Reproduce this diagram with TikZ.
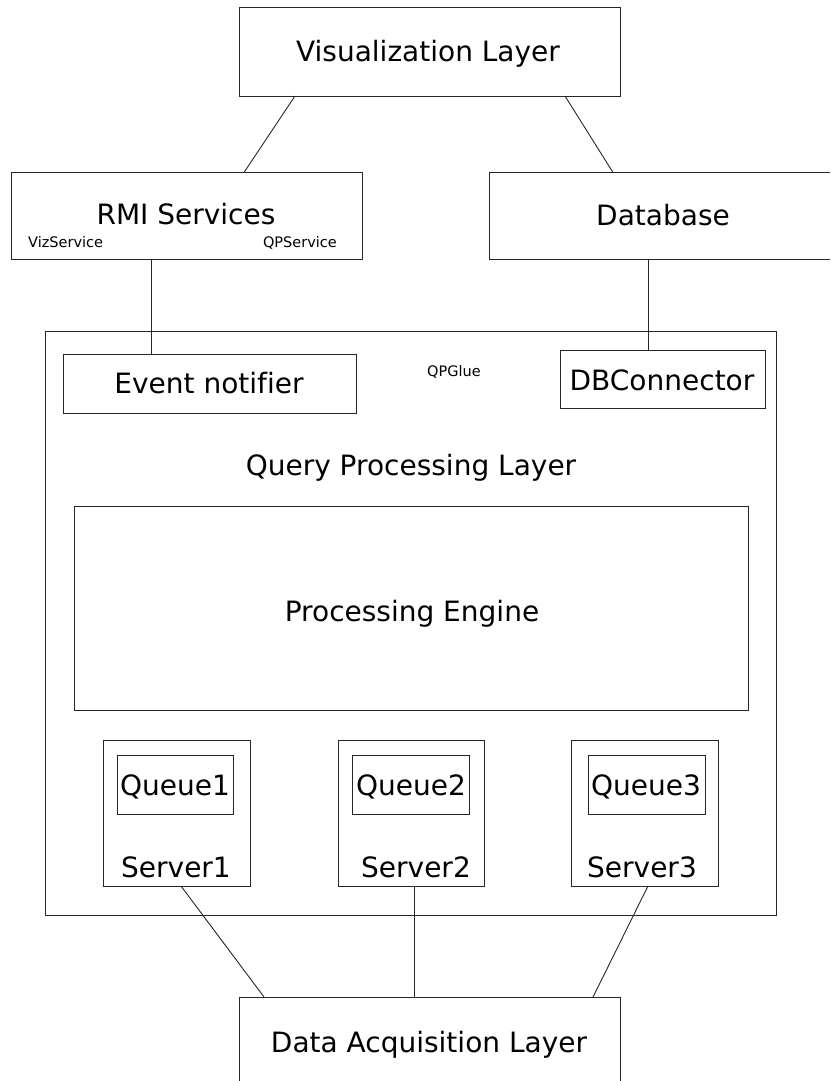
\documentclass[tikz,border=0pt]{standalone}
\usepackage{fontspec}
\setmainfont[Ligatures=NoCommon]{DejaVu Sans}
\usetikzlibrary{positioning}
\begin{document}
\begin{tikzpicture}[x=1pt,y=-1pt,
  box/.style={draw=black!85, line width=1pt, inner sep=0pt, outer sep=0pt},
  big/.style={font=\fontsize{28}{34}\selectfont, inner sep=0pt, anchor=base, text=black},
  small/.style={font=\fontsize{14.5}{17}\selectfont, inner sep=0pt, anchor=base, text=black},
  wire/.style={draw=black!85, line width=0.9pt}]
\useasboundingbox (0,0) rectangle (830,1081);
\clip (0,0) rectangle (830,1081);

% layer boxes (top row)
\node[box, minimum width=381pt, minimum height=88pt] (viz) at (429.5,52) {};
\node[box, minimum width=351pt, minimum height=87pt] (rmi) at (186.5,216) {};
\node[box, minimum width=371pt, minimum height=87pt] (db)  at (674.5,216) {};

\node[big] (vizt) at (428,62) {Visualization Layer};
\node[big] (rmit) at (186,224) {RMI Services};
\node[small, anchor=base west] (vizs) at (28,247) {VizService};
\node[small, anchor=base east] (qps)  at (337,247) {QPService};
\node[big] (dbt) at (663,225) {Database};

% query processing layer
\node[box, minimum width=731pt, minimum height=584pt] (qp) at (410.5,623) {};
\node[box, minimum width=293pt, minimum height=59pt] (evt) at (209.5,384) {};
\node[big] (evtt) at (209,393) {Event notifier};
\node[small] (glue) at (454,376) {QPGlue};
\node[box, minimum width=205pt, minimum height=58pt] (dbc) at (662.5,379) {};
\node[big] (dbct) at (662,390) {DBConnector};
\node[big] (qpt) at (411,475) {Query Processing Layer};
\node[box, minimum width=674pt, minimum height=204pt] (eng) at (411,608) {};
\node[big] (engt) at (412,621) {Processing Engine};

% servers with their queues
\node[box, minimum width=147pt, minimum height=146pt] (s1) at (176.5,813) {};
\node[box, minimum width=146pt, minimum height=146pt] (s2) at (411,813) {};
\node[box, minimum width=147pt, minimum height=146pt] (s3) at (644.5,813) {};
\node[box, minimum width=116pt, minimum height=59pt] (q1) at (175.5,785) {};
\node[box, minimum width=117pt, minimum height=59pt] (q2) at (410.5,785) {};
\node[box, minimum width=117pt, minimum height=59pt] (q3) at (646.5,785) {};
\node[big] (q1t) at (175,795) {Queue1};
\node[big] (q2t) at (411,795) {Queue2};
\node[big] (q3t) at (646,795) {Queue3};
\node[big] (s1t) at (176,877) {Server1};
\node[big] (s2t) at (416,877) {Server2};
\node[big] (s3t) at (642,877) {Server3};

% data acquisition layer
\node[box, minimum width=381pt, minimum height=110pt] (dal) at (429.5,1052) {};
\node[big] (dalt) at (429,1052) {Data Acquisition Layer};

% connectors
\draw[wire] ([xshift=56pt]viz.south west) -- ([xshift=233pt]rmi.north west);
\draw[wire] ([xshift=326pt]viz.south west) -- ([xshift=124pt]db.north west);
\draw[wire] ([xshift=140pt]rmi.south west) -- ([xshift=88pt]evt.north west);
\draw[wire] ([xshift=159pt]db.south west) -- ([xshift=88pt]dbc.north west);
\draw[wire] ([xshift=78pt]s1.south west) -- ([xshift=25pt]dal.north west);
\draw[wire] ([xshift=76pt]s2.south west) -- ([xshift=175pt]dal.north west);
\draw[wire] ([xshift=77pt]s3.south west) -- ([xshift=354pt]dal.north west);
\end{tikzpicture}
\end{document}
